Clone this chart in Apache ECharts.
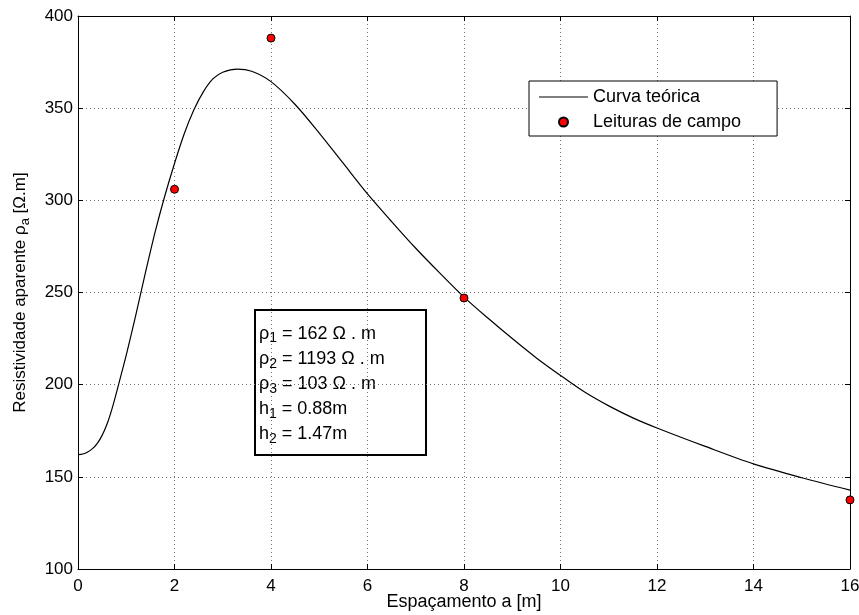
<!DOCTYPE html>
<html>
<head>
<meta charset="utf-8">
<script src="https://cdn.jsdelivr.net/npm/echarts@6/dist/echarts.min.js"></script>
<style>
  html, body { margin: 0; padding: 0; background: #fff; }
  #chart { width: 859px; height: 615px; }
</style>
</head>
<body>
<div id="chart"></div>
<script>
// Theoretical apparent-resistivity curve (spacing a [m] -> rho_a [Ohm.m])
const curveX = [0, 0.1, 0.2, 0.3, 0.4, 0.5, 0.6, 0.7, 0.8, 0.9, 1.0, 1.2, 1.4, 1.6, 1.8, 2.0, 2.2, 2.4, 2.6,
  2.8, 3.0, 3.3, 3.6, 4.0, 4.5, 5.0, 5.5, 6.0, 6.5, 7.0, 7.5, 8.0, 8.5, 9.0, 9.5, 10.0, 10.5, 11.0, 11.5,
  12.0, 13.0, 14.0, 15.0, 16.0];
const curveY = [162, 162.4, 163.5, 165.3, 168.2, 172.5, 178.5, 186.5, 196, 206, 216, 238, 261, 283, 302.5,
  320, 336, 349, 359, 366, 369.5, 371.2, 370, 364.4, 352, 336.5, 320, 303.5, 288.5, 274, 260.5, 247.5, 236,
  225, 214.5, 205, 196, 188.5, 182, 176.5, 166.5, 157, 149.5, 142.8];

// Field readings
const fieldX = [2, 4, 8, 16];
const fieldY = [306, 388, 247, 137.5];

// Axis ranges
const xMin = 0, xMax = 16, xStep = 2;
const yMin = 100, yMax = 400, yStep = 50;

// Series names
const curveName = 'Curva teórica';
const fieldName = 'Leituras de campo';

// Layer model parameters shown in the annotation box
const paramSymbols = ['ρ', 'ρ', 'ρ', 'h', 'h'];
const paramIndices = ['1', '2', '3', '1', '2'];
const paramValues = [' = 162 Ω . m', ' = 1193 Ω . m', ' = 103 Ω . m', ' = 0.88m', ' = 1.47m'];

const FONT = '"Liberation Sans", Arial, Helvetica, sans-serif';

const curveData = curveX.map((x, i) => [x, curveY[i]]);
const fieldData = fieldX.map((x, i) => [x, fieldY[i]]);

const boxText = paramSymbols.map((s, i) => '{m|' + s + '}{s|' + paramIndices[i] + '}{m|' + paramValues[i] + '}').join('\n');

const chart = echarts.init(document.getElementById('chart'), null, { renderer: 'canvas' });

const gridLine = { show: true, lineStyle: { color: '#707070', width: 1, type: [1, 3] } };

chart.setOption({
  animation: false,
  backgroundColor: '#ffffff',
  textStyle: { fontFamily: FONT },
  grid: { left: 78, right: 9, top: 16, bottom: 46, containLabel: false, outerBoundsMode: 'none' },
  xAxis: [
    {
      type: 'value', min: xMin, max: xMax, interval: xStep,
      name: 'Espaçamento a [m]', nameLocation: 'middle', nameGap: 24, nameMoveOverlap: false,
      nameTextStyle: { color: '#000', fontSize: 18, fontFamily: FONT },
      axisLine: { show: true, onZero: false, lineStyle: { color: '#000', width: 1 } },
      axisTick: { show: true, inside: true, length: 5, lineStyle: { color: '#000' } },
      axisLabel: { color: '#000', fontSize: 17, margin: 9, fontFamily: FONT },
      splitLine: gridLine
    },
    {
      type: 'value', position: 'top', min: xMin, max: xMax, interval: xStep,
      axisLine: { show: true, onZero: false, lineStyle: { color: '#000', width: 1 } },
      axisTick: { show: true, inside: true, length: 5, lineStyle: { color: '#000' } },
      axisLabel: { show: false },
      splitLine: { show: false }
    }
  ],
  yAxis: [
    {
      type: 'value', min: yMin, max: yMax, interval: yStep,
      name: 'Resistividade aparente {m|ρ}{s|a}{m| [Ω.m]}',
      nameLocation: 'middle', nameGap: 46, nameRotate: 90, nameMoveOverlap: false,
      nameTextStyle: {
        color: '#000', fontSize: 17, fontFamily: FONT,
        rich: {
          m: { fontSize: 17, color: '#000', fontFamily: FONT },
          s: { fontSize: 13, color: '#000', fontFamily: FONT, padding: [10, 0, 0, 0] }
        }
      },
      axisLine: { show: true, onZero: false, lineStyle: { color: '#000', width: 1 } },
      axisTick: { show: true, inside: true, length: 5, lineStyle: { color: '#000' } },
      axisLabel: { color: '#000', fontSize: 17, margin: 5, fontFamily: FONT },
      splitLine: gridLine
    },
    {
      type: 'value', position: 'right', min: yMin, max: yMax, interval: yStep,
      axisLine: { show: true, onZero: false, lineStyle: { color: '#000', width: 1 } },
      axisTick: { show: true, inside: true, length: 5, lineStyle: { color: '#000' } },
      axisLabel: { show: false },
      splitLine: { show: false }
    }
  ],
  legend: {
    show: true,
    orient: 'vertical',
    left: 529, top: 81,
    padding: [6, 36, 4, 10],
    itemGap: 5,
    itemWidth: 49,
    itemHeight: 9,
    backgroundColor: '#ffffff',
    borderColor: '#000',
    borderWidth: 1,
    textStyle: { color: '#000', fontSize: 18, lineHeight: 20, fontFamily: FONT },
    data: [
      { name: curveName, icon: 'path://M0,0L49,0L49,1.2L0,1.2Z', itemStyle: { color: '#000' } },
      { name: fieldName }
    ]
  },
  series: [
    {
      name: curveName,
      type: 'line',
      data: curveData,
      showSymbol: false,
      symbol: 'none',
      smooth: 0.3,
      lineStyle: { color: '#000', width: 1.2 },
      itemStyle: { color: '#000' },
      z: 3
    },
    {
      name: fieldName,
      type: 'scatter',
      data: fieldData,
      symbol: 'circle',
      symbolSize: 8,
      itemStyle: { color: '#ff0000', borderColor: '#000', borderWidth: 1, opacity: 1 },
      z: 4
    }
  ],
  graphic: [
    {
      type: 'group',
      left: 254, top: 309,
      z: 10,
      children: [
        {
          type: 'rect',
          shape: { x: 0, y: 0, width: 171, height: 145 },
          style: { fill: '#ffffff', stroke: '#000', lineWidth: 2 }
        },
        {
          type: 'text',
          x: 4, y: 11,
          style: {
            text: boxText,
            fontFamily: FONT,
            fontSize: 18,
            fill: '#000',
            rich: {
              m: { fontSize: 18, lineHeight: 25.2, fontFamily: FONT, fill: '#000' },
              s: { fontSize: 14, fontFamily: FONT, fill: '#000', padding: [10, 0, 0, 0] }
            }
          }
        }
      ]
    }
  ]
});
</script>
</body>
</html>
